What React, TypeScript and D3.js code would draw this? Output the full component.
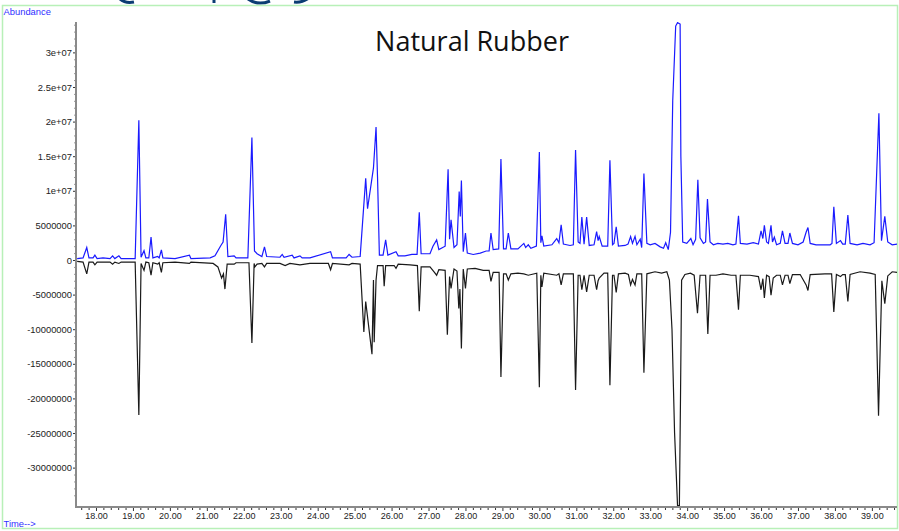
import { useEffect, useRef } from "react";
import * as d3 from "d3";

// [time (min), abundance]
const upperTrace: [number, number][] = [
  [17.49, 0.2e6], [17.65, 0.3e6], [17.75, 1.8e6], [17.81, 0.3e6], [17.92, 0.3e6], [17.97, 0.7e6],
  [18.03, 0.2e6], [18.19, 0.3e6], [18.38, 0.2e6], [18.45, 0.6e6], [18.51, 0.2e6], [18.62, 0.6e6],
  [18.68, 0.2e6], [19.06, 0.2e6], [19.16, 20.2e6], [19.22, 0.4e6], [19.3, 1.35e6], [19.35, 0.3e6],
  [19.43, 0.3e6], [19.49, 3.3e6], [19.54, 0.3e6], [19.67, 0.5e6], [19.71, 0.3e6], [19.77, 1.45e6],
  [19.81, 0.3e6], [20.14, 0.2e6], [20.53, 0.7e6], [20.57, 0.2e6], [21.09, 0.3e6], [21.22, 0.6e6],
  [21.38, 2.1e6], [21.44, 2.6e6], [21.51, 6.6e6], [21.57, 0.5e6], [21.74, 0.6e6], [21.79, 0.3e6],
  [22.11, 0.3e6], [22.22, 17.7e6], [22.29, 1.3e6], [22.36, 0.9e6], [22.49, 0.5e6], [22.56, 1.9e6],
  [22.62, 0.5e6], [22.98, 0.4e6], [23.04, 0.8e6], [23.09, 0.4e6], [23.31, 0.7e6], [23.36, 0.3e6],
  [23.52, 0.6e6], [23.58, 0.3e6], [23.79, 0.3e6], [24.35, 1.2e6], [24.4, 0.3e6], [24.77, 0.3e6],
  [24.85, 0.8e6], [24.93, 0.4e6], [25.15, 0.5e6], [25.3, 11.8e6], [25.35, 7.4e6], [25.51, 13.3e6],
  [25.58, 19.2e6], [25.62, 12.0e6], [25.67, 0.7e6], [25.77, 0.7e6], [25.84, 2.9e6], [25.9, 0.7e6],
  [26.12, 1.2e6], [26.18, 0.6e6], [26.36, 0.6e6], [26.55, 0.8e6], [26.69, 0.8e6], [26.75, 6.9e6],
  [26.8, 0.9e6], [27.04, 0.9e6], [27.12, 2.0e6], [27.22, 2.9e6], [27.28, 1.5e6], [27.45, 2.0e6],
  [27.53, 13.1e6], [27.57, 3.0e6], [27.61, 5.8e6], [27.69, 1.8e6], [27.77, 2.2e6], [27.83, 9.9e6],
  [27.86, 6.3e6], [27.89, 11.5e6], [27.94, 1.2e6], [28.0, 3.9e6], [28.05, 1.0e6], [28.21, 0.8e6],
  [28.4, 1.0e6], [28.56, 1.3e6], [28.64, 1.3e6], [28.69, 3.9e6], [28.75, 1.5e6], [28.9, 1.6e6],
  [28.96, 14.6e6], [29.03, 1.6e6], [29.1, 1.6e6], [29.16, 3.9e6], [29.23, 1.6e6], [29.42, 1.6e6],
  [29.58, 2.4e6], [29.63, 1.8e6], [29.7, 2.2e6], [29.77, 1.7e6], [29.92, 2.0e6], [30.0, 15.6e6],
  [30.04, 2.5e6], [30.07, 3.5e6], [30.12, 2.0e6], [30.34, 2.2e6], [30.47, 3.1e6], [30.53, 2.5e6],
  [30.59, 5.1e6], [30.65, 2.3e6], [30.83, 2.1e6], [30.92, 2.2e6], [30.98, 15.9e6], [31.05, 2.6e6],
  [31.1, 2.4e6], [31.15, 6.2e6], [31.21, 2.3e6], [31.28, 6.2e6], [31.35, 2.1e6], [31.48, 2.2e6],
  [31.55, 4.1e6], [31.59, 2.8e6], [31.62, 3.4e6], [31.7, 2.0e6], [31.85, 2.0e6], [31.91, 14.4e6],
  [31.98, 2.2e6], [32.02, 2.4e6], [32.08, 4.8e6], [32.14, 2.0e6], [32.32, 2.1e6], [32.4, 2.3e6],
  [32.47, 3.4e6], [32.52, 2.4e6], [32.59, 3.4e6], [32.64, 2.2e6], [32.73, 3.0e6], [32.77, 1.8e6],
  [32.83, 12.5e6], [32.91, 2.4e6], [33.0, 2.2e6], [33.13, 2.4e6], [33.27, 1.9e6], [33.36, 1.7e6],
  [33.42, 2.5e6], [33.49, 1.5e6], [33.55, 4.0e6], [33.61, 23.0e6], [33.69, 33.8e6], [33.74, 34.3e6],
  [33.81, 34.1e6], [33.83, 15.0e6], [33.88, 2.6e6], [33.99, 2.4e6], [34.1, 3.1e6], [34.16, 2.2e6],
  [34.23, 3.0e6], [34.29, 11.6e6], [34.35, 3.2e6], [34.44, 2.4e6], [34.5, 2.6e6], [34.55, 8.8e6],
  [34.62, 2.6e6], [34.71, 2.2e6], [34.83, 2.4e6], [34.97, 2.3e6], [35.1, 2.4e6], [35.24, 2.2e6],
  [35.32, 2.3e6], [35.39, 6.4e6], [35.44, 2.4e6], [35.62, 2.3e6], [35.79, 2.5e6], [35.93, 2.3e6],
  [36.0, 4.2e6], [36.05, 3.1e6], [36.09, 5.0e6], [36.15, 2.6e6], [36.2, 2.4e6], [36.27, 5.0e6],
  [36.31, 2.6e6], [36.36, 3.3e6], [36.42, 2.2e6], [36.52, 2.4e6], [36.58, 4.2e6], [36.65, 2.4e6],
  [36.73, 2.4e6], [36.78, 3.9e6], [36.85, 2.4e6], [37.0, 2.2e6], [37.14, 2.6e6], [37.22, 4.0e6],
  [37.27, 4.7e6], [37.33, 2.4e6], [37.49, 2.2e6], [37.87, 2.2e6], [37.92, 2.4e6], [37.97, 7.7e6],
  [38.04, 2.4e6], [38.15, 2.8e6], [38.21, 2.3e6], [38.28, 2.3e6], [38.35, 6.5e6], [38.41, 2.4e6],
  [38.6, 2.2e6], [38.76, 2.4e6], [38.95, 2.2e6], [39.06, 2.5e6], [39.19, 21.2e6], [39.26, 2.8e6],
  [39.35, 6.3e6], [39.43, 2.6e6], [39.55, 2.2e6], [39.68, 2.3e6],
];

const lowerTrace: [number, number][] = [
  [17.49, -0.2e6], [17.65, -0.3e6], [17.75, -2.0e6], [17.81, -0.3e6], [17.92, -0.3e6], [17.97, -0.7e6],
  [18.03, -0.3e6], [18.38, -0.3e6], [18.45, -0.6e6], [18.51, -0.3e6], [18.62, -0.5e6], [18.68, -0.3e6],
  [19.06, -0.3e6], [19.16, -22.4e6], [19.22, -0.5e6], [19.3, -1.5e6], [19.35, -0.3e6], [19.43, -0.4e6],
  [19.49, -2.2e6], [19.54, -0.4e6], [19.67, -0.6e6], [19.71, -0.4e6], [19.77, -1.8e6], [19.81, -0.4e6],
  [20.14, -0.3e6], [20.53, -0.5e6], [20.57, -0.3e6], [21.17, -0.5e6], [21.3, -1.0e6], [21.4, -2.6e6],
  [21.45, -2.0e6], [21.49, -4.2e6], [21.55, -0.6e6], [21.74, -0.6e6], [21.79, -0.4e6], [22.14, -0.4e6],
  [22.22, -12.0e6], [22.28, -0.5e6], [22.3, -1.0e6], [22.36, -0.6e6], [22.49, -0.5e6], [22.56, -1.0e6],
  [22.62, -0.5e6], [22.98, -0.5e6], [23.12, -0.8e6], [23.25, -0.5e6], [23.52, -0.7e6], [23.79, -0.5e6],
  [24.29, -0.5e6], [24.35, -1.4e6], [24.4, -0.5e6], [24.85, -0.7e6], [24.93, -0.5e6], [25.15, -0.6e6],
  [25.25, -10.4e6], [25.3, -6.0e6], [25.47, -13.6e6], [25.51, -2.9e6], [25.53, -11.9e6], [25.58, -2.9e6],
  [25.62, -0.8e6], [25.77, -0.8e6], [25.8, -3.8e6], [25.84, -0.8e6], [26.07, -0.8e6], [26.12, -1.2e6],
  [26.18, -0.6e6], [26.5, -0.7e6], [26.7, -0.8e6], [26.75, -7.4e6], [26.8, -1.0e6], [27.04, -1.0e6],
  [27.15, -1.7e6], [27.22, -2.2e6], [27.28, -1.4e6], [27.45, -1.5e6], [27.51, -10.8e6], [27.57, -2.4e6],
  [27.61, -4.1e6], [27.69, -1.3e6], [27.77, -1.6e6], [27.82, -7.0e6], [27.85, -4.2e6], [27.89, -12.8e6],
  [27.94, -1.3e6], [28.0, -4.1e6], [28.05, -1.3e6], [28.26, -1.2e6], [28.48, -1.5e6], [28.64, -1.5e6],
  [28.69, -3.1e6], [28.75, -1.8e6], [28.91, -1.8e6], [28.96, -16.9e6], [29.03, -2.0e6], [29.1, -2.0e6],
  [29.16, -2.9e6], [29.23, -2.0e6], [29.42, -1.9e6], [29.58, -2.0e6], [29.7, -2.2e6], [29.93, -1.9e6],
  [30.0, -18.4e6], [30.04, -2.2e6], [30.07, -3.9e6], [30.12, -1.9e6], [30.47, -2.2e6], [30.53, -2.0e6],
  [30.59, -3.6e6], [30.65, -2.0e6], [30.83, -2.0e6], [30.92, -2.0e6], [30.98, -18.8e6], [31.05, -2.2e6],
  [31.1, -2.2e6], [31.15, -4.3e6], [31.21, -2.2e6], [31.28, -4.6e6], [31.35, -2.2e6], [31.48, -2.2e6],
  [31.55, -4.3e6], [31.59, -3.0e6], [31.62, -2.6e6], [31.75, -1.9e6], [31.85, -1.9e6], [31.91, -18.1e6],
  [31.98, -2.2e6], [32.02, -2.2e6], [32.08, -4.7e6], [32.14, -2.0e6], [32.32, -1.9e6], [32.41, -2.1e6],
  [32.47, -3.6e6], [32.52, -2.8e6], [32.59, -3.6e6], [32.64, -2.0e6], [32.77, -2.0e6], [32.83, -16.3e6],
  [32.91, -2.0e6], [33.13, -1.7e6], [33.31, -1.9e6], [33.45, -1.7e6], [33.52, -2.9e6], [33.59, -10.0e6],
  [33.66, -25.0e6], [33.74, -35.5e6], [33.79, -35.5e6], [33.82, -20.0e6], [33.85, -2.9e6], [33.94, -2.1e6],
  [34.09, -1.9e6], [34.19, -2.2e6], [34.28, -7.7e6], [34.35, -2.2e6], [34.46, -2.2e6], [34.5, -2.2e6],
  [34.56, -10.7e6], [34.62, -2.2e6], [34.78, -2.2e6], [34.97, -2.0e6], [35.19, -2.2e6], [35.32, -2.2e6],
  [35.39, -7.2e6], [35.44, -2.2e6], [35.7, -2.2e6], [35.93, -2.4e6], [36.0, -4.3e6], [36.05, -2.7e6],
  [36.09, -5.5e6], [36.15, -2.2e6], [36.22, -2.4e6], [36.27, -5.1e6], [36.33, -2.6e6], [36.42, -2.2e6],
  [36.52, -2.2e6], [36.58, -3.6e6], [36.65, -2.2e6], [36.73, -2.2e6], [36.78, -3.4e6], [36.85, -2.1e6],
  [37.06, -2.1e6], [37.22, -3.6e6], [37.27, -4.4e6], [37.33, -2.1e6], [37.73, -2.0e6], [37.91, -2.0e6],
  [37.97, -7.5e6], [38.04, -2.1e6], [38.15, -2.4e6], [38.21, -2.1e6], [38.28, -2.1e6], [38.35, -6.0e6],
  [38.41, -2.1e6], [38.68, -1.7e6], [38.95, -1.9e6], [39.09, -2.1e6], [39.18, -22.5e6], [39.27, -3.0e6],
  [39.35, -6.3e6], [39.43, -2.3e6], [39.55, -1.7e6], [39.68, -1.8e6],
];

const xMajorTicks = [18, 19, 20, 21, 22, 23, 24, 25, 26, 27, 28, 29, 30, 31, 32, 33, 34, 35, 36, 37, 38, 39];
const yTickValues = [3e7, 2.5e7, 2e7, 1.5e7, 1e7, 5e6, 0, -5e6, -1e7, -1.5e7, -2e7, -2.5e7, -3e7];
const yTickLabels = [
  "3e+07", "2.5e+07", "2e+07", "1.5e+07", "1e+07", "5000000", "0",
  "-5000000", "-10000000", "-15000000", "-20000000", "-25000000", "-30000000",
];

const W = 899;
const H = 531;

export default function App() {
  const ref = useRef<SVGSVGElement | null>(null);

  useEffect(() => {
    const svg = d3.select(ref.current);
    svg.selectAll("*").remove();

    const left = 77;
    const right = 897;
    const top = 22;
    const bottom = 507;

    const x = d3.scaleLinear().domain([17.486, 39.68]).range([left, right]);
    const y = d3.scaleLinear().domain([-35.69e6, 34.39e6]).range([bottom, top]);

    const font = "'Liberation Sans', Arial, sans-serif";

    svg.append("rect").attr("width", W).attr("height", H).attr("fill", "#fff");

    // bits of the slide logo peeking over the frame
    const logo = svg.append("g").attr("fill", "none").attr("stroke", "#0b3c73").attr("stroke-width", 3);
    logo.append("path").attr("d", "M118,-3 Q124,4 134,2");
    logo.append("path").attr("d", "M214,-2 L214,3");
    logo.append("path").attr("d", "M248,-1 Q258,6 270,1");
    logo.append("path").attr("d", "M294,2 Q303,3 310,-3");

    // frame
    svg
      .append("rect")
      .attr("x", 2.5)
      .attr("y", 5.5)
      .attr("width", 895)
      .attr("height", 523)
      .attr("fill", "none")
      .attr("stroke", "#b8f0b8")
      .attr("stroke-width", 1.5);

    svg
      .append("text")
      .attr("x", 3.5)
      .attr("y", 15)
      .attr("font-family", font)
      .attr("font-size", 9.4)
      .attr("fill", "#3030ff")
      .text("Abundance");

    svg
      .append("text")
      .attr("x", 3.5)
      .attr("y", 527)
      .attr("font-family", font)
      .attr("font-size", 9.4)
      .attr("fill", "#3030ff")
      .text("Time-->");

    svg
      .append("text")
      .attr("x", 472)
      .attr("y", 51)
      .attr("text-anchor", "middle")
      .attr("font-family", "'Open Sans', sans-serif")
      .attr("font-size", 27)
      .attr("fill", "#111")
      .text("Natural Rubber");

    svg
      .append("clipPath")
      .attr("id", "plot-clip")
      .append("rect")
      .attr("x", left)
      .attr("y", top)
      .attr("width", right - left)
      .attr("height", bottom - top);

    const line = d3
      .line<[number, number]>()
      .x((d) => x(d[0]))
      .y((d) => y(d[1]));

    const plot = svg.append("g").attr("clip-path", "url(#plot-clip)");
    plot
      .append("path")
      .datum(lowerTrace)
      .attr("fill", "none")
      .attr("stroke", "#1a1a1a")
      .attr("stroke-width", 1.2)
      .attr("d", line);
    plot
      .append("path")
      .datum(upperTrace)
      .attr("fill", "none")
      .attr("stroke", "#1a1aff")
      .attr("stroke-width", 1.2)
      .attr("d", line);

    const axisColor = "#8a8a8a";

    // x axis: minor ticks every 0.2 min, majors each minute
    const xMinor = d3.range(17.6, 39.7, 0.2).filter((t) => Math.abs(t - Math.round(t)) > 0.01);
    svg
      .append("g")
      .attr("transform", `translate(0,${bottom})`)
      .call(d3.axisBottom(x).tickValues(xMinor).tickSize(3).tickSizeOuter(0).tickFormat(() => ""))
      .call((g) => g.select(".domain").remove())
      .call((g) => g.selectAll("line").attr("stroke", "#333"));
    svg
      .append("g")
      .attr("transform", `translate(0,${bottom})`)
      .call(
        d3
          .axisBottom(x)
          .tickValues(xMajorTicks)
          .tickSize(4)
          .tickSizeOuter(0)
          .tickPadding(2)
          .tickFormat((d) => d3.format(".2f")(+d)),
      )
      .call((g) => g.select(".domain").remove())
      .call((g) => g.selectAll("line").attr("stroke", "#333"))
      .call((g) =>
        g.selectAll("text").attr("font-family", font).attr("font-size", 9).attr("fill", "#222"),
      );

    // y axis: minor ticks every 1e6
    const yMinor = d3.range(-35e6, 34.5e6, 1e6).filter((v) => Math.abs(v % 5e6) > 1);
    svg
      .append("g")
      .attr("transform", `translate(${left - 1},0)`)
      .call(d3.axisLeft(y).tickValues(yMinor).tickSize(2).tickSizeOuter(0).tickFormat(() => ""))
      .call((g) => g.select(".domain").remove())
      .call((g) => g.selectAll("line").attr("stroke", "#999"));
    svg
      .append("g")
      .attr("transform", `translate(${left - 1},0)`)
      .call(
        d3
          .axisLeft(y)
          .tickValues(yTickValues)
          .tickSize(3)
          .tickSizeOuter(0)
          .tickPadding(1)
          .tickFormat((_, i) => yTickLabels[i]),
      )
      .call((g) => g.select(".domain").remove())
      .call((g) => g.selectAll("line").attr("stroke", "#333"))
      .call((g) =>
        g.selectAll("text").attr("font-family", font).attr("font-size", 9.4).attr("fill", "#222"),
      );

    // axis lines
    svg
      .append("path")
      .attr("d", `M${left - 1},${top}V${bottom}H${right}`)
      .attr("fill", "none")
      .attr("stroke", axisColor)
      .attr("stroke-width", 2);
  }, []);

  return (
    <svg
      ref={ref}
      width={W}
      height={H}
      style={{ position: "absolute", left: 0, top: 0, display: "block" }}
    />
  );
}
